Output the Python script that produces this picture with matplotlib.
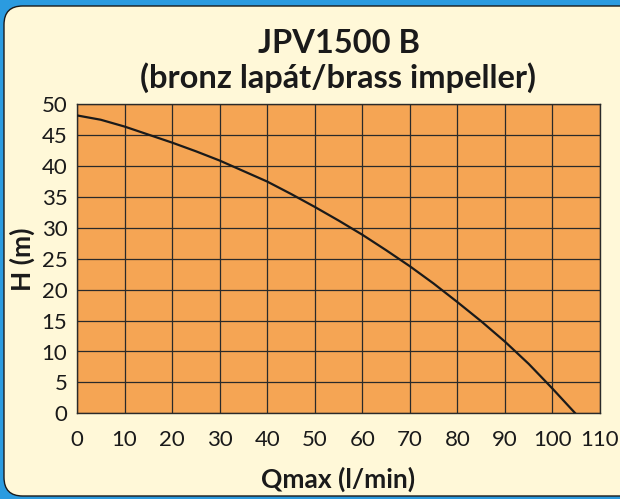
import matplotlib.pyplot as plt
from matplotlib.patches import FancyBboxPatch

# Pump curve: flow (l/min) vs head (m)
flow = [0, 5, 10, 15, 20, 25, 30, 35, 40, 45, 50, 55,
        60, 65, 70, 75, 80, 85, 90, 95, 100, 104.8]
head = [48.2, 47.5, 46.4, 45.1, 43.8, 42.4, 40.9, 39.2, 37.5, 35.5, 33.4, 31.2,
        28.9, 26.4, 23.8, 21.0, 18.0, 14.9, 11.6, 8.0, 4.0, 0]

x_ticks = list(range(0, 111, 10))
y_ticks = list(range(0, 51, 5))

title = "JPV1500 B\n(bronz lapát/brass impeller)"
x_label = "Qmax (l/min)"
y_label = "H (m)"

plt.rcParams["font.family"] = ["Lato", "DejaVu Sans"]

fig = plt.figure(figsize=(6.2, 4.99), dpi=100)
fig.patch.set_facecolor("#2b9be0")

# beige rounded panel behind the chart
panel = FancyBboxPatch((4 / 620, 3 / 499), 640 / 620, 490 / 499,
                       boxstyle="round,pad=0,rounding_size=0.03",
                       transform=fig.transFigure, facecolor="#fff8d8",
                       edgecolor="#1a1a1a", linewidth=1.0, zorder=-5,
                       mutation_aspect=620 / 499)
fig.patches.append(panel)

ax = fig.add_axes([77 / 620, 1 - 413.3 / 499, 523 / 620, 309 / 499])
ax.set_facecolor("#f5a554")

ax.plot(flow, head, color="#1a1a1a", linewidth=1.6, zorder=3)

ax.set_xlim(0, 110)
ax.set_ylim(0, 50)
ax.set_xticks(x_ticks)
ax.set_yticks(y_ticks)
ax.grid(True, color="#2a2a2a", linewidth=0.9)
ax.set_axisbelow(False)
ax.tick_params(length=0, labelsize=16, colors="#1a1a1a")
ax.tick_params(axis="x", pad=12)
ax.tick_params(axis="y", pad=7)
for spine in ax.spines.values():
    spine.set_color("#2a2a2a")
    spine.set_linewidth(1.0)

ax.set_title(title, fontsize=23.5, fontweight="bold", color="#1a1a1a",
             linespacing=1.15, pad=12)
ax.set_xlabel(x_label, fontsize=19, fontweight="bold", color="#1a1a1a",
              labelpad=12)
ax.set_ylabel(y_label, fontsize=19, fontweight="bold", color="#1a1a1a",
              va="center")
ax.yaxis.set_label_coords(-0.105, 0.5)

fig.savefig("out.png", dpi=100, facecolor=fig.get_facecolor())
